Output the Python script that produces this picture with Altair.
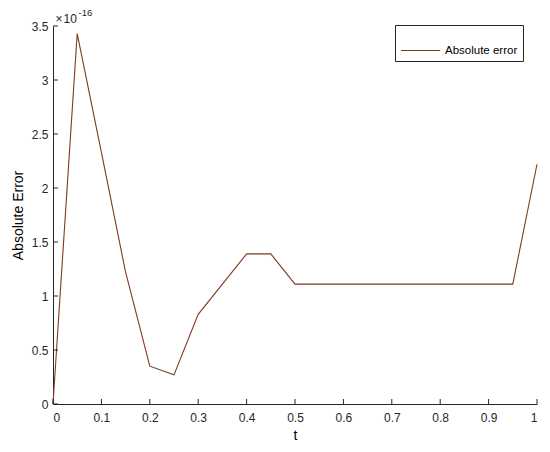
import altair as alt
import pandas as pd

# Data (absolute error values in units of 1e-16)
t_values = [0.0, 0.05, 0.1, 0.15, 0.2, 0.25, 0.3, 0.35, 0.4, 0.45, 0.5,
            0.55, 0.6, 0.65, 0.7, 0.75, 0.8, 0.85, 0.9, 0.95, 1.0]
err_values = [0.0, 3.43, 2.33, 1.22, 0.35, 0.27, 0.83, 1.11, 1.39, 1.39, 1.11,
              1.11, 1.11, 1.11, 1.11, 1.11, 1.11, 1.11, 1.11, 1.11, 2.22]
series_name = "Absolute error"
x_ticks = [0, 0.1, 0.2, 0.3, 0.4, 0.5, 0.6, 0.7, 0.8, 0.9, 1.0]
y_ticks = [0, 0.5, 1, 1.5, 2, 2.5, 3, 3.5]

LINE_COLOR = "#7F3A1E"
AXIS_COLOR = "#262626"
FONT = "Liberation Sans"
W, H = 484, 378

df = pd.DataFrame({"t": t_values, "err": err_values, "series": series_name})
xt = pd.DataFrame({"xt": x_ticks})
yt = pd.DataFrame({"yt": y_ticks})

xscale = alt.Scale(domain=[0, 1], nice=False, zero=False)
yscale = alt.Scale(domain=[0, 3.5], nice=False)

line = alt.Chart(df).mark_line(strokeWidth=1.1).encode(
    x=alt.X("t:Q", scale=xscale,
            axis=alt.Axis(title="t", values=x_ticks, format="~g", tickSize=0,
                          labelPadding=8, titlePadding=5, titleFontSize=14,
                          labelFontSize=12, grid=False)),
    y=alt.Y("err:Q", scale=yscale,
            axis=alt.Axis(title="Absolute Error", values=y_ticks, format="~g",
                          tickSize=0, labelPadding=5, titlePadding=6,
                          titleFontSize=14, labelFontSize=12, grid=False)),
    color=alt.Color("series:N",
                    scale=alt.Scale(domain=[series_name], range=[LINE_COLOR]),
                    legend=alt.Legend(title=None, orient="none", legendX=342,
                                      legendY=-1, strokeColor=AXIS_COLOR,
                                      fillColor="white", padding=5,
                                      symbolType="stroke", symbolSize=1521,
                                      symbolStrokeWidth=1.1, labelFontSize=11.5,
                                      labelOffset=4, labelColor="#000000",
                                      labelFont=FONT)),
)

yticks = alt.Chart(yt).mark_rule(color=AXIS_COLOR, strokeWidth=1).encode(
    y=alt.Y("yt:Q", scale=yscale),
    x=alt.value(0), x2=alt.value(5),
)
xticks = alt.Chart(xt).mark_rule(color=AXIS_COLOR, strokeWidth=1).encode(
    x=alt.X("xt:Q", scale=xscale),
    y=alt.value(H), y2=alt.value(H - 5),
)

exp_base = alt.Chart(pd.DataFrame({"s": ["\u00d7\u200a10"]})).mark_text(
    align="left", baseline="middle", fontSize=12, font=FONT, color=AXIS_COLOR
).encode(text="s:N", x=alt.value(2.5), y=alt.value(-7.5))
exp_pow = alt.Chart(pd.DataFrame({"s": ["-16"]})).mark_text(
    align="left", baseline="middle", fontSize=9.5, font=FONT, color=AXIS_COLOR
).encode(text="s:N", x=alt.value(25.5), y=alt.value(-13.5))

chart = alt.layer(line, yticks, xticks, exp_base, exp_pow).properties(
    width=W, height=H,
    autosize=alt.AutoSizeParams(type="none"),
    padding={"left": 45, "top": 18, "right": 5, "bottom": 40},
).configure_view(stroke=None).configure_axis(
    domainColor=AXIS_COLOR, domainWidth=1, labelColor=AXIS_COLOR,
    titleColor="#000000", labelFont=FONT, titleFont=FONT,
    titleFontWeight="normal",
).configure_legend(strokeWidth=1, cornerRadius=0)

chart.save("out.html", embed_options={"renderer": "svg", "actions": False})
